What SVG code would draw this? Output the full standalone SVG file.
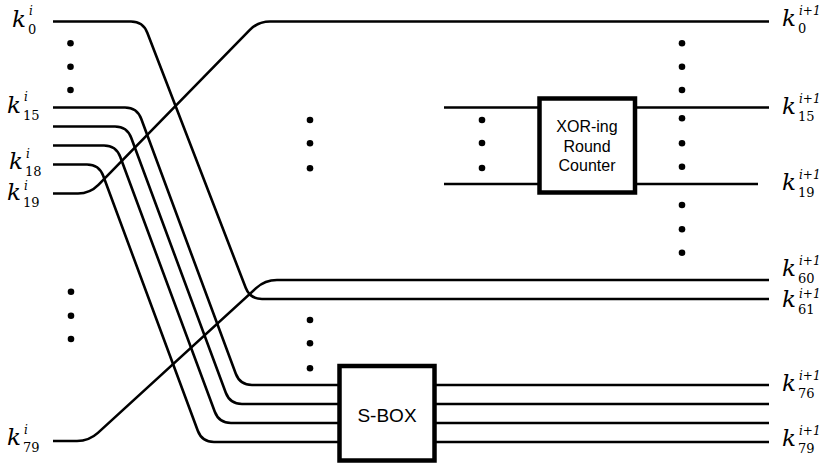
<svg xmlns="http://www.w3.org/2000/svg" width="822" height="465" viewBox="0 0 822 465">
<style>
.w{fill:none;stroke:#000;stroke-width:2.6}
.box{fill:#fff;stroke:#000;stroke-width:4.5}
.bt{font-family:"Liberation Sans",Arial,sans-serif;fill:#000;text-anchor:middle}
.k{font-family:"DejaVu Serif","Liberation Serif",serif;font-style:italic;font-size:23px;fill:#000}
.sup{font-family:"DejaVu Serif","Liberation Serif",serif;font-style:italic;font-size:12px;fill:#000}
.sub{font-family:"DejaVu Serif","Liberation Serif",serif;font-size:13px;fill:#000}
.d{fill:#000}
</style>
<rect width="822" height="465" fill="#fff"/>
<g id="connectors">
<path class="w" d="M53,21.5 H131 Q143,21.5 147.3,32.7 L245.7,287.8 Q250,299 262,299 H769"/>
<path class="w" d="M53,193.5 H78 Q90,193.5 98.4,184.9 L249.6,30.1 Q258,21.5 270,21.5 H769"/>
<path class="w" d="M53,441 H77 Q89,441 97.9,432.9 L256.1,288.1 Q265,280 277,280 H769"/>
<path class="w" d="M53,107.5 H125 Q137,107.5 141.2,118.8 L235.8,373.8 Q240,385 252,385 H769"/>
<path class="w" d="M53,126.5 H115 Q127,126.5 131.2,137.8 L225.8,392.8 Q230,404 242,404 H769"/>
<path class="w" d="M53,145.5 H104 Q116,145.5 120.2,156.8 L214.8,411.8 Q219,423 231,423 H769"/>
<path class="w" d="M53,164.5 H87 Q99,164.5 103.2,175.8 L197.8,430.8 Q202,442 214,442 H769"/>
<path class="w" d="M444,107.5 H540 M444,184 H540 M635,107.5 H769 M635,184 H758"/>
</g>
<g id="xor">
<rect class="box" x="539.5" y="98.5" width="95.5" height="94"/>
<text class="bt" font-size="16" x="587" y="132">XOR-ing</text>
<text class="bt" font-size="16" x="587" y="151.5">Round</text>
<text class="bt" font-size="16" x="587" y="170.5">Counter</text>
</g>
<g id="sbox">
<rect class="box" x="339.5" y="366" width="95" height="94.5"/>
<text class="bt" font-size="19" x="387" y="421.5">S-BOX</text>
</g>
<g id="dots">
<circle class="d" cx="70.5" cy="43.3" r="3.3"/><circle class="d" cx="70.5" cy="66.7" r="3.3"/><circle class="d" cx="70.5" cy="90" r="3.3"/>
<circle class="d" cx="71" cy="291.7" r="3.3"/><circle class="d" cx="71" cy="315.7" r="3.3"/><circle class="d" cx="71" cy="339" r="3.3"/>
<circle class="d" cx="310" cy="120" r="3.3"/><circle class="d" cx="310" cy="143.3" r="3.3"/><circle class="d" cx="310" cy="168.3" r="3.3"/>
<circle class="d" cx="310" cy="320" r="3.3"/><circle class="d" cx="310" cy="343.3" r="3.3"/><circle class="d" cx="310" cy="368.3" r="3.3"/>
<circle class="d" cx="482" cy="120" r="3.3"/><circle class="d" cx="482" cy="143" r="3.3"/><circle class="d" cx="482" cy="168" r="3.3"/>
<circle class="d" cx="682" cy="43.3" r="3.3"/><circle class="d" cx="682" cy="66.7" r="3.3"/><circle class="d" cx="682" cy="90" r="3.3"/>
<circle class="d" cx="682" cy="118.3" r="3.3"/><circle class="d" cx="682" cy="143.3" r="3.3"/><circle class="d" cx="682" cy="166.7" r="3.3"/>
<circle class="d" cx="682" cy="205" r="3.3"/><circle class="d" cx="682" cy="229.3" r="3.3"/><circle class="d" cx="682" cy="252.7" r="3.3"/>
</g>
<g id="in0"><text class="k" x="12" y="27">k</text><text class="sup" x="29" y="15">i</text><text class="sub" x="28" y="34">0</text></g>
<g id="in15"><text class="k" x="7" y="113">k</text><text class="sup" x="24" y="101">i</text><text class="sub" x="23" y="120">15</text></g>
<g id="in18"><text class="k" x="9" y="169">k</text><text class="sup" x="26" y="158">i</text><text class="sub" x="25" y="176">18</text></g>
<g id="in19"><text class="k" x="7" y="200">k</text><text class="sup" x="24" y="190">i</text><text class="sub" x="23" y="207">19</text></g>
<g id="in79"><text class="k" x="7" y="445">k</text><text class="sup" x="24" y="434">i</text><text class="sub" x="23" y="452">79</text></g>
<g id="out0"><text class="k" x="782" y="26">k</text><text class="sup" x="799" y="15">i+1</text><text class="sub" x="798" y="33">0</text></g>
<g id="out15"><text class="k" x="782" y="114">k</text><text class="sup" x="799" y="103">i+1</text><text class="sub" x="798" y="121">15</text></g>
<g id="out19"><text class="k" x="782" y="190">k</text><text class="sup" x="799" y="179">i+1</text><text class="sub" x="798" y="197">19</text></g>
<g id="out60"><text class="k" x="782" y="276">k</text><text class="sup" x="799" y="265">i+1</text><text class="sub" x="798" y="283">60</text></g>
<g id="out61"><text class="k" x="782" y="307">k</text><text class="sup" x="799" y="298">i+1</text><text class="sub" x="798" y="314">61</text></g>
<g id="out76"><text class="k" x="782" y="391">k</text><text class="sup" x="799" y="380">i+1</text><text class="sub" x="798" y="398">76</text></g>
<g id="out79"><text class="k" x="782" y="446">k</text><text class="sup" x="799" y="435">i+1</text><text class="sub" x="798" y="453">79</text></g>
</svg>
